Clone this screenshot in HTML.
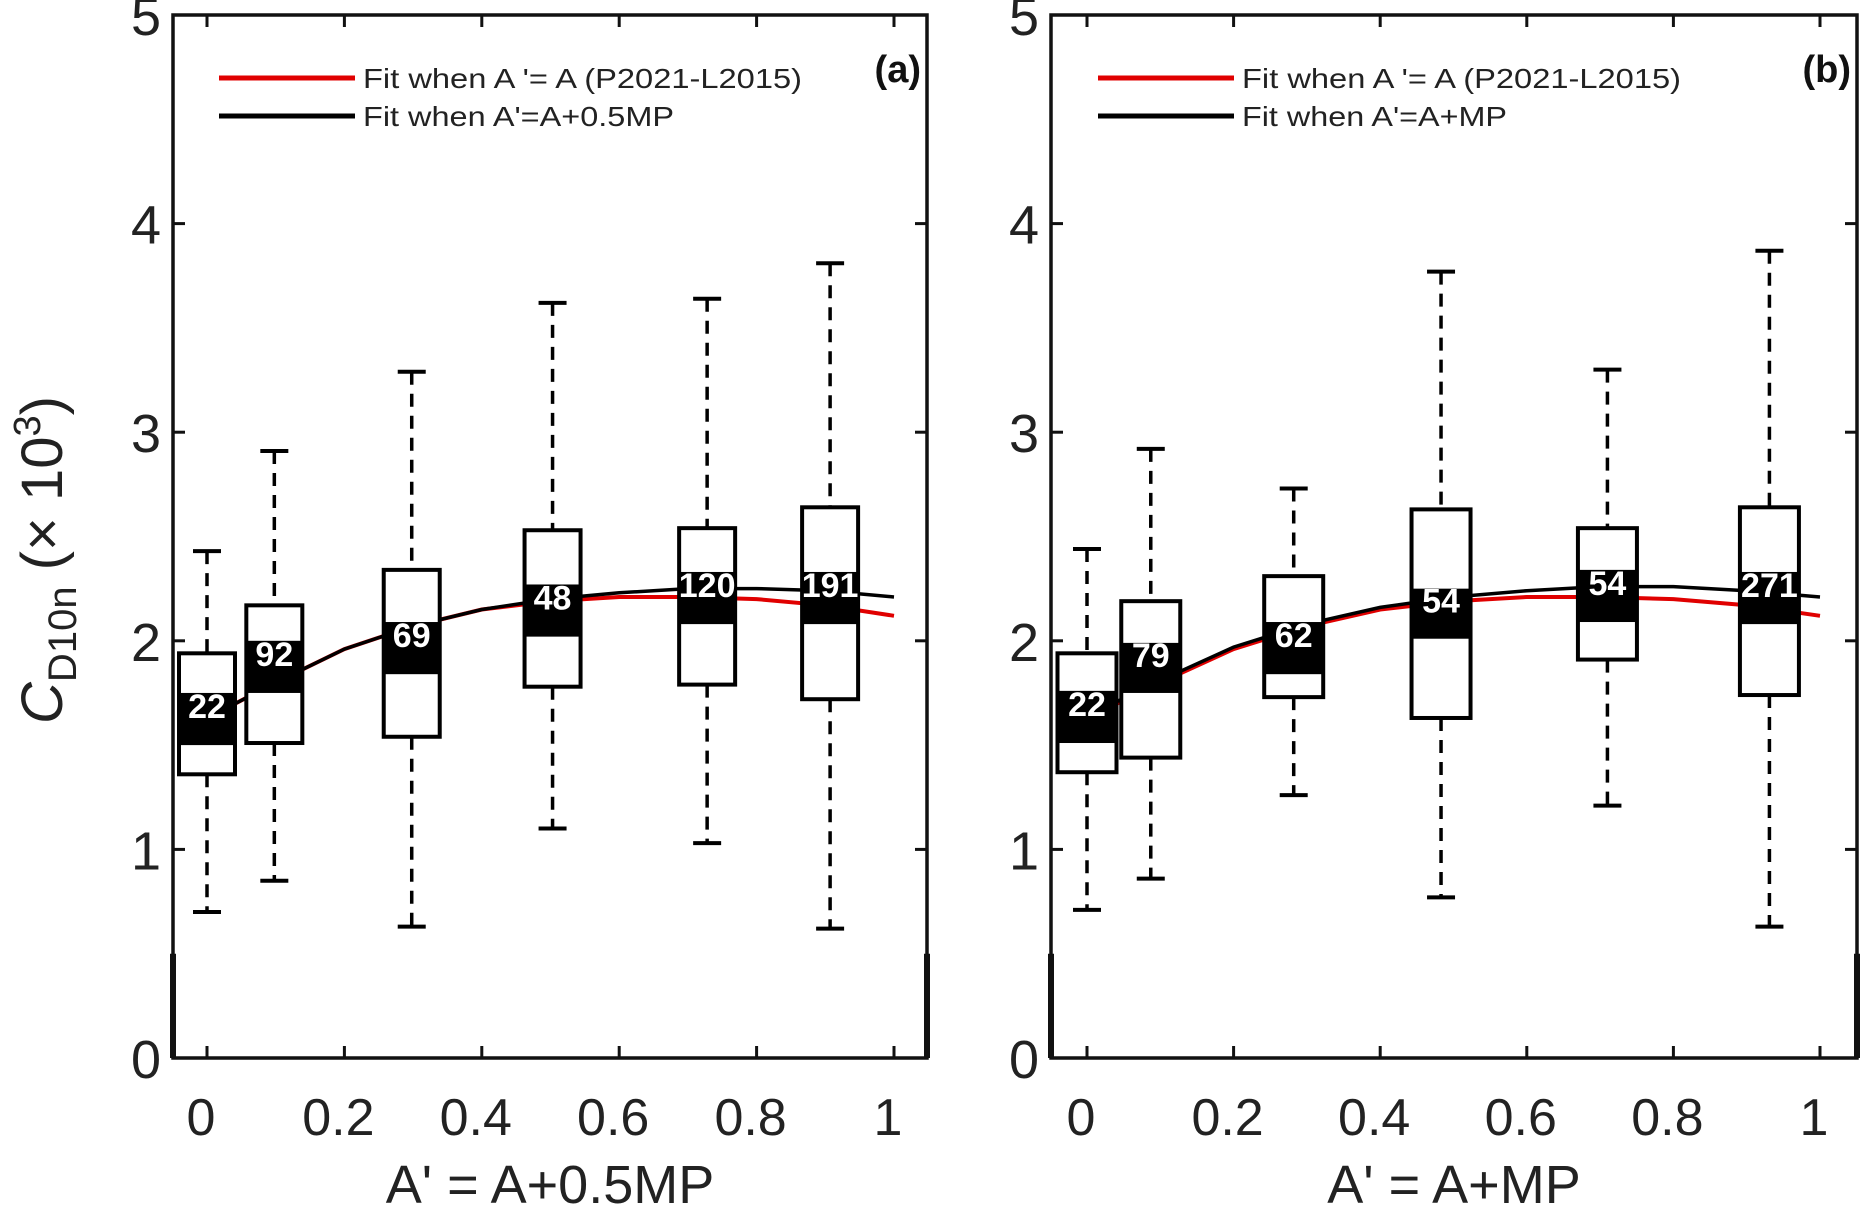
<!DOCTYPE html>
<html><head><meta charset="utf-8"><style>
html,body{margin:0;padding:0;background:#fff;}
svg{display:block;}
text{font-family:"Liberation Sans",sans-serif;}
</style></head><body>
<svg id="fig" width="1861" height="1211" viewBox="0 0 1861 1211" xmlns="http://www.w3.org/2000/svg">
<text transform="translate(62,560) rotate(-90)" text-anchor="middle" font-size="58" fill="#222"><tspan font-style="italic">C</tspan><tspan font-size="40" dy="14">D10n</tspan><tspan dy="-14"> (× 10</tspan><tspan font-size="38" dy="-22">3</tspan><tspan dy="22">)</tspan></text>
</svg>
<script>
// shared y axis ticks
const yTicks = [0,1,2,3,4,5];
const xTicks = [0,0.2,0.4,0.6,0.8,1];
const xTickLabels = ['0','0.2','0.4','0.6','0.8','1'];
// panel (a)
const aX = [0.0, 0.098, 0.298, 0.503, 0.728, 0.907];
const aCounts = ['22','92','69','48','120','191'];
const aWhiskerHi = [2.43, 2.91, 3.29, 3.62, 3.64, 3.81];
const aQ3 = [1.94, 2.17, 2.34, 2.53, 2.54, 2.64];
const aBandHi = [1.75, 2.00, 2.09, 2.27, 2.33, 2.33];
const aBandLo = [1.50, 1.75, 1.84, 2.02, 2.08, 2.08];
const aQ1 = [1.36, 1.51, 1.54, 1.78, 1.79, 1.72];
const aWhiskerLo = [0.70, 0.85, 0.63, 1.10, 1.03, 0.62];
// panel (b)
const bX = [0.0, 0.087, 0.282, 0.483, 0.71, 0.931];
const bCounts = ['22','79','62','54','54','271'];
const bWhiskerHi = [2.44, 2.92, 2.73, 3.77, 3.30, 3.87];
const bQ3 = [1.94, 2.19, 2.31, 2.63, 2.54, 2.64];
const bBandHi = [1.76, 1.99, 2.09, 2.25, 2.34, 2.33];
const bBandLo = [1.51, 1.75, 1.84, 2.01, 2.09, 2.08];
const bQ1 = [1.37, 1.44, 1.73, 1.63, 1.91, 1.74];
const bWhiskerLo = [0.71, 0.86, 1.26, 0.77, 1.21, 0.63];
// fit curves
const fitX = [0.03,0.1,0.2,0.3,0.4,0.5,0.6,0.7,0.8,0.9,1.0];
const fitRed = [1.68,1.80,1.96,2.07,2.15,2.19,2.21,2.21,2.20,2.17,2.12];
const fitBlackA = [1.68,1.80,1.96,2.07,2.15,2.20,2.23,2.25,2.25,2.24,2.21];
const fitBlackB = [1.69,1.81,1.97,2.08,2.16,2.21,2.24,2.26,2.26,2.24,2.21];

const NS='http://www.w3.org/2000/svg';
const svg=document.getElementById('fig');
function mk(tag,attrs,parent){const e=document.createElementNS(NS,tag);for(const k in attrs)e.setAttribute(k,attrs[k]);(parent||svg).appendChild(e);return e;}

function panel(cfg){
  const g=mk('g',{});
  
  
  const X=v=>cfg.x0+(cfg.x1-cfg.x0)*v;
  const Y=v=>1058-(1058-15)*v/5;
  const L=cfg.left,R=cfg.right,T=Y(5),B=Y(0);
  yTicks.forEach(t=>{
    mk('line',{x1:L,x2:L+12,y1:Y(t),y2:Y(t),stroke:'#111','stroke-width':3},g);
    mk('line',{x1:R,x2:R-12,y1:Y(t),y2:Y(t),stroke:'#111','stroke-width':3},g);
    const tl=mk('text',{x:L-12,y:Y(t)+20,'text-anchor':'end','font-size':54,fill:'#222'},g);
    
    
    tl.textContent=String(t);
  });
  xTicks.forEach((t,i)=>{
    mk('line',{x1:X(t),x2:X(t),y1:B,y2:B-12,stroke:'#111','stroke-width':3},g);
    mk('line',{x1:X(t),x2:X(t),y1:T,y2:T+12,stroke:'#111','stroke-width':3},g);
    const tl=mk('text',{x:X(t)-6,y:1135,'text-anchor':'middle','font-size':52,fill:'#222'},g);
    
    
    tl.textContent=xTickLabels[i];
  });
  const pts=arr=>fitX.map((x,i)=>X(x).toFixed(1)+','+Y(arr[i]).toFixed(1)).join(' ');
  const fr=mk('polyline',{points:pts(fitRed),fill:'none',stroke:'#e00000','stroke-width':4},g);
  
  
  const fb=mk('polyline',{points:pts(cfg.fitBlack),fill:'none',stroke:'#000','stroke-width':3.5},g);
  
  
  const hw=cfg.bw/2;
  cfg.xs.forEach((xv,i)=>{
    const cx=X(xv);
    const bg=mk('g',{},g);
    
    
    mk('line',{x1:cx,x2:cx,y1:Y(cfg.wHi[i]),y2:Y(cfg.q3[i]),stroke:'#000','stroke-width':3.5,'stroke-dasharray':'13 9'},bg);
    mk('line',{x1:cx,x2:cx,y1:Y(cfg.q1[i]),y2:Y(cfg.wLo[i]),stroke:'#000','stroke-width':3.5,'stroke-dasharray':'13 9'},bg);
    mk('line',{x1:cx-14,x2:cx+14,y1:Y(cfg.wHi[i]),y2:Y(cfg.wHi[i]),stroke:'#000','stroke-width':4},bg);
    mk('line',{x1:cx-14,x2:cx+14,y1:Y(cfg.wLo[i]),y2:Y(cfg.wLo[i]),stroke:'#000','stroke-width':4},bg);
    mk('rect',{x:cx-hw,y:Y(cfg.q3[i]),width:cfg.bw,height:Y(cfg.q1[i])-Y(cfg.q3[i]),fill:'#fff',stroke:'#000','stroke-width':4},bg);
    mk('rect',{x:cx-hw,y:Y(cfg.bHi[i]),width:cfg.bw,height:Y(cfg.bLo[i])-Y(cfg.bHi[i]),fill:'#000'},bg);
    const lt=mk('text',{x:cx,y:(Y(cfg.bHi[i])+Y(cfg.bLo[i]))/2-1,'text-anchor':'middle','font-size':34,'font-weight':'bold',fill:'#fff','font-family':'DejaVu Sans, sans-serif'},bg);
    
    
    lt.textContent=cfg.counts[i];
  });
  mk('rect',{x:L,y:T,width:R-L,height:B-T,fill:'none',stroke:'#111','stroke-width':3.5},g);
  mk('line',{x1:L,x2:L,y1:Y(0.5),y2:B,stroke:'#111','stroke-width':6},g);
  mk('line',{x1:R,x2:R,y1:Y(0.5),y2:B,stroke:'#111','stroke-width':6},g);
  const lg=mk('g',{},g);
  
  
  mk('line',{x1:cfg.lgX,x2:cfg.lgX+136,y1:78,y2:78,stroke:'#e00000','stroke-width':5},lg);
  mk('line',{x1:cfg.lgX,x2:cfg.lgX+136,y1:116,y2:116,stroke:'#000','stroke-width':5},lg);
  const t1=mk('text',{x:cfg.lgX+144,y:88,'font-size':28,fill:'#222',textLength:439,lengthAdjust:'spacingAndGlyphs'},lg);
  
  
  t1.textContent="Fit when A '= A (P2021-L2015)";
  const t2=mk('text',{x:cfg.lgX+144,y:126,'font-size':28,fill:'#222',textLength:cfg.lg2W,lengthAdjust:'spacingAndGlyphs'},lg);
  
  
  t2.textContent=cfg.lg2;
  const pl=mk('text',{x:R-6,y:82,'text-anchor':'end','font-size':38,'font-weight':'bold',fill:'#111'},g);
  
  
  pl.textContent=cfg.tag;
  const xt=mk('text',{x:(L+R)/2,y:1203,'text-anchor':'middle','font-size':54,fill:'#222'},g);
  
  
  xt.textContent=cfg.title;
}
panel({name:'panel-a',left:173,right:927,x0:207,x1:894,bw:56,xs:aX,counts:aCounts,wHi:aWhiskerHi,q3:aQ3,bHi:aBandHi,bLo:aBandLo,q1:aQ1,wLo:aWhiskerLo,fitBlack:fitBlackA,lgX:219,lg2:"Fit when A'=A+0.5MP",lg2W:311,tag:'(a)',title:"A' = A+0.5MP"});
panel({name:'panel-b',left:1051,right:1857,x0:1087,x1:1820,bw:59,xs:bX,counts:bCounts,wHi:bWhiskerHi,q3:bQ3,bHi:bBandHi,bLo:bBandLo,q1:bQ1,wLo:bWhiskerLo,fitBlack:fitBlackB,lgX:1098,lg2:"Fit when A'=A+MP",lg2W:265,tag:'(b)',title:"A' = A+MP"});
</script>
</body></html>
